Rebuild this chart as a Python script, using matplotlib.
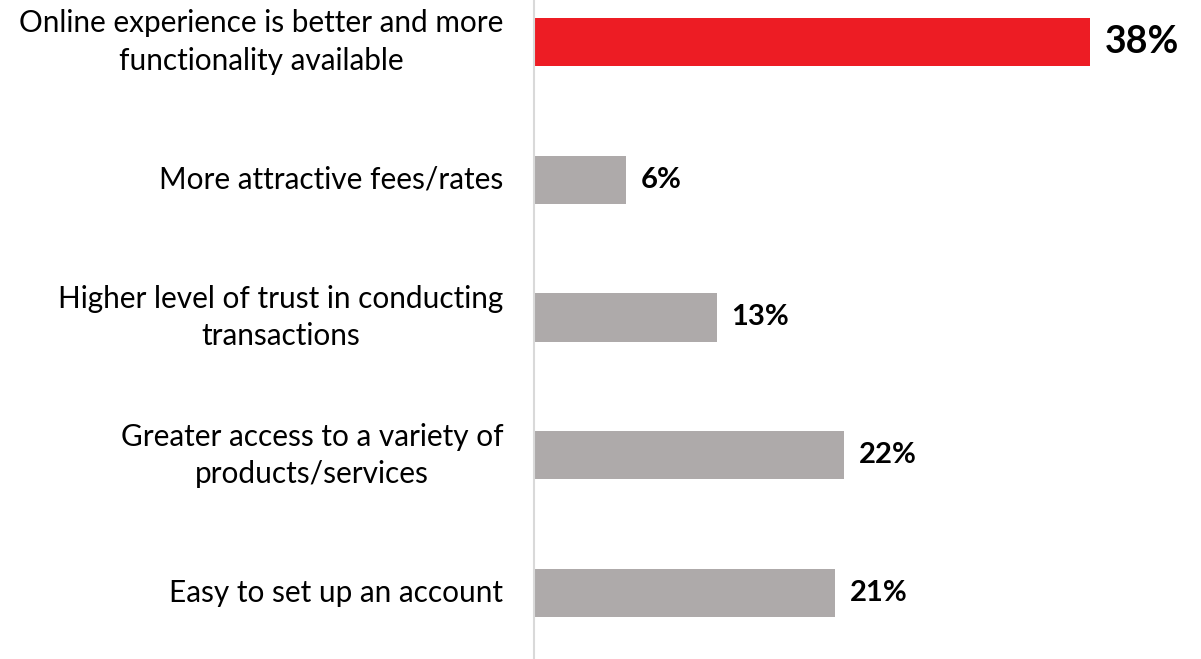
import matplotlib
matplotlib.use("Agg")
import matplotlib.pyplot as plt

categories = [
    "Online experience is better and more\nfunctionality available",
    "More attractive fees/rates",
    "Higher level of trust in conducting\ntransactions",
    "Greater access to a variety of\nproducts/services",
    "Easy to set up an account",
]
values = [37.9, 6.2, 12.4, 21.1, 20.5]
value_labels = ["38%", "6%", "13%", "22%", "21%"]
bar_colors = ["#ED1C24", "#AEAAAA", "#AEAAAA", "#AEAAAA", "#AEAAAA"]

plt.rcParams['font.family'] = ['Lato', 'DejaVu Sans']

fig = plt.figure(figsize=(12.01, 6.59), dpi=100)
ax = fig.add_axes([534 / 1201, 0, 1 - 534 / 1201, 1])

pos = list(range(len(categories)))
ax.barh(pos, values, height=0.35, color=bar_colors, left=0.1)

for i, (v, lab) in enumerate(zip(values, value_labels)):
    big = (i == 0)
    ax.text(v + 1.1, i, lab, va="center", ha="left", fontweight="bold",
            fontsize=27 if big else 21, color="black")

# category labels, right aligned just left of the axis
for i, cat in enumerate(categories):
    ax.text(-2.1, i, cat, va="center", ha="right", fontsize=21.4,
            color="black", multialignment="center", linespacing=1.4,
            clip_on=False)

ax.set_xlim(0, 45.6)
ax.set_ylim(4.48, -0.305)
ax.set_xticks([])
ax.set_yticks([])
for side in ["top", "right", "bottom"]:
    ax.spines[side].set_visible(False)
ax.spines["left"].set_color("#D9D9D9")
ax.spines["left"].set_linewidth(1.5)

fig.savefig("out.png", dpi=100)
